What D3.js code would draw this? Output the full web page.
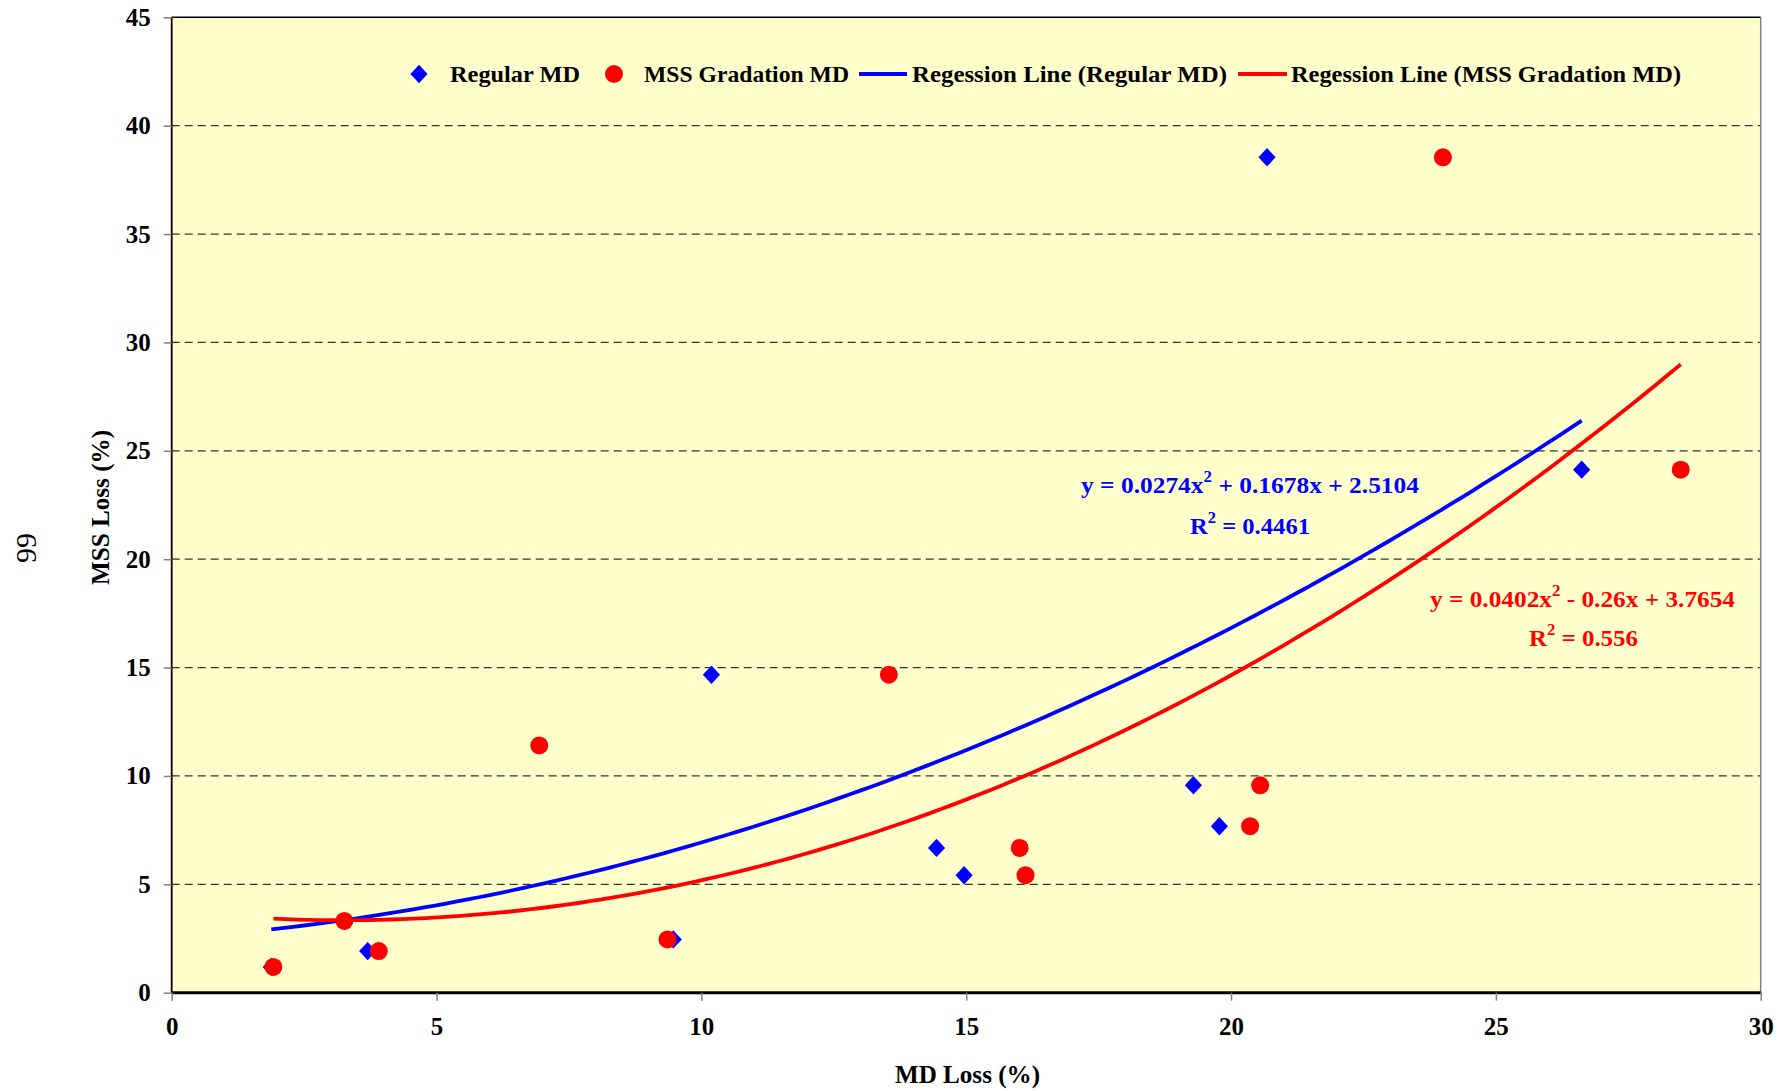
<!DOCTYPE html>
<html>
<head>
<meta charset="utf-8">
<script src="https://cdn.jsdelivr.net/npm/d3@7"></script>
<style>
  html, body { margin: 0; padding: 0; background: #ffffff; }
  svg { display: block; }
  text { font-family: "Liberation Serif", "Times New Roman", serif; }
</style>
</head>
<body>
<svg id="chart" width="1787" height="1091"></svg>
<script>
// MD loss (x) vs MSS loss (y), both in percent
const regularX = [1.88, 3.70, 9.47, 10.19, 14.44, 14.96, 19.29, 19.78, 20.68, 26.62];
const regularY = [1.19, 1.92, 2.46, 14.67, 6.68, 5.42, 9.57, 7.68, 38.54, 24.13];

const gradationX = [1.92, 3.26, 3.91, 6.94, 9.36, 13.54, 16.01, 16.12, 20.36, 20.55, 24.0, 28.49];
const gradationY = [1.19, 3.31, 1.92, 11.41, 2.46, 14.67, 6.68, 5.42, 7.68, 9.57, 38.54, 24.13];

// quadratic trendline coefficients [a, b, c] for y = a x^2 + b x + c
const regularFit = [0.0274, 0.1678, 2.5104];
const gradationFit = [0.0402, -0.26, 3.7654];
const regularR2 = "0.4461";
const gradationR2 = "0.556";

const xTicks = [0, 5, 10, 15, 20, 25, 30];
const yTicks = [0, 5, 10, 15, 20, 25, 30, 35, 40, 45];
const gridValues = [5, 10, 15, 20, 25, 30, 35, 40];

const legendLabels = ["Regular MD", "MSS Gradation MD", "Regession Line (Regular MD)", "Regession Line (MSS Gradation MD)"];

const BLUE = "#0000ff", RED = "#ff0000", PLOT_BG = "#ffffcc";

const svg = d3.select("#chart");
const plot = { left: 171.7, right: 1760.7, top: 17.3, bottom: 992.7 };

const x = d3.scaleLinear().domain([0, 30]).range([plot.left, plot.right]);
const y = d3.scaleLinear().domain([0, 45]).range([plot.bottom, plot.top]);

// plot area background
svg.append("rect")
  .attr("x", plot.left).attr("y", plot.top)
  .attr("width", plot.right - plot.left).attr("height", plot.bottom - plot.top)
  .attr("fill", PLOT_BG);

// dashed horizontal gridlines
svg.append("g").selectAll("line").data(gridValues).join("line")
  .attr("x1", plot.left).attr("x2", plot.right)
  .attr("y1", d => y(d)).attr("y2", d => y(d))
  .attr("stroke", "#333").attr("stroke-width", 1.3)
  .attr("stroke-dasharray", "8,5");

// plot frame: top black, right grey
svg.append("line").attr("x1", plot.left).attr("x2", plot.right)
  .attr("y1", plot.top).attr("y2", plot.top).attr("stroke", "#000").attr("stroke-width", 1.5);
svg.append("line").attr("x1", plot.right).attr("x2", plot.right)
  .attr("y1", plot.top).attr("y2", plot.bottom).attr("stroke", "#808080").attr("stroke-width", 1.5);

// axes
const yAxis = d3.axisLeft(y).tickValues(yTicks).tickSize(8).tickPadding(13).tickFormat(d3.format("d"));
const xAxis = d3.axisBottom(x).tickValues(xTicks).tickSize(8).tickPadding(12).tickFormat(d3.format("d"));

const gy = svg.append("g").attr("transform", `translate(${plot.left},0)`).call(yAxis);
const gx = svg.append("g").attr("transform", `translate(0,${plot.bottom})`).call(xAxis);

[gx, gy].forEach(g => {
  g.selectAll(".tick line").attr("stroke", "#808080").attr("stroke-width", 1.5);
  g.selectAll(".tick text")
    .attr("fill", "#000")
    .style("font-family", "'Liberation Serif', 'Times New Roman', serif")
    .style("font-weight", "bold")
    .style("font-size", "25px");
});
gy.select(".domain").attr("stroke", "#000").attr("stroke-width", 1.8).attr("d", `M0,${plot.top}V${plot.bottom}`);
gx.select(".domain").attr("stroke", "#000").attr("stroke-width", 3).attr("d", `M${plot.left},0H${plot.right}`);
gx.selectAll(".tick text").attr("dy", "0.9em");

// trendline paths over each series' x range
function fitCurve(coef, xs) {
  const lo = d3.min(xs), hi = d3.max(xs);
  const n = 120;
  return d3.range(n + 1).map(i => {
    const xv = lo + (hi - lo) * i / n;
    return [xv, coef[0] * xv * xv + coef[1] * xv + coef[2]];
  });
}
const line = d3.line().x(d => x(d[0])).y(d => y(d[1]));

svg.append("path").datum(fitCurve(regularFit, regularX))
  .attr("d", line).attr("fill", "none").attr("stroke", BLUE).attr("stroke-width", 3.8);
svg.append("path").datum(fitCurve(gradationFit, gradationX))
  .attr("d", line).attr("fill", "none").attr("stroke", RED).attr("stroke-width", 3.8);

// markers: a slightly tall diamond, and filled circles
const diamondType = {
  draw(ctx) {
    const w = 8.6, h = 9.2;
    ctx.moveTo(0, -h); ctx.lineTo(w, 0); ctx.lineTo(0, h); ctx.lineTo(-w, 0); ctx.closePath();
  }
};
const diamond = d3.symbol().type(diamondType);
const regular = regularX.map((v, i) => [v, regularY[i]]);
const gradation = gradationX.map((v, i) => [v, gradationY[i]]);

svg.append("g").selectAll("path").data(regular).join("path")
  .attr("d", diamond)
  .attr("transform", d => `translate(${x(d[0])},${y(d[1])})`)
  .attr("fill", BLUE);

svg.append("g").selectAll("circle").data(gradation).join("circle")
  .attr("cx", d => x(d[0])).attr("cy", d => y(d[1])).attr("r", 9)
  .attr("fill", RED);

// legend
const legend = svg.append("g").style("font-weight", "bold").style("font-size", "24px");
const legendY = 74;
legend.append("path").attr("d", diamond).attr("transform", `translate(419,${legendY})`).attr("fill", BLUE);
legend.append("circle").attr("cx", 614).attr("cy", legendY).attr("r", 9).attr("fill", RED);
legend.append("line").attr("x1", 859).attr("x2", 907).attr("y1", legendY).attr("y2", legendY)
  .attr("stroke", BLUE).attr("stroke-width", 3.8);
legend.append("line").attr("x1", 1238).attr("x2", 1287).attr("y1", legendY).attr("y2", legendY)
  .attr("stroke", RED).attr("stroke-width", 3.8);
const legendPos = [[450, 130], [644, 205], [912, 315], [1291, 390]];
legendLabels.forEach((t, i) => {
  legend.append("text").attr("x", legendPos[i][0]).attr("y", legendY + 8)
    .attr("textLength", legendPos[i][1]).attr("lengthAdjust", "spacingAndGlyphs")
    .attr("fill", "#000").text(t);
});

// trendline equations with superscript exponents
function equation(g, xPos, yPos, color, parts, width) {
  const t = g.append("text").attr("x", xPos).attr("y", yPos).attr("fill", color)
    .style("font-weight", "bold").style("font-size", "24px")
    .attr("textLength", width).attr("lengthAdjust", "spacingAndGlyphs");
  let raised = false;
  parts.forEach(p => {
    if (p.sup) {
      t.append("tspan").attr("dy", -11).style("font-size", "16px").text(p.sup);
      raised = true;
    } else {
      const s = t.append("tspan").text(p.text);
      if (raised) { s.attr("dy", 11); raised = false; }
    }
  });
  return t;
}
const eq = svg.append("g");
const fmt = v => String(Math.abs(v));
equation(eq, 1081, 493, BLUE,
  [{ text: `y = ${fmt(regularFit[0])}x` }, { sup: "2" },
   { text: ` + ${fmt(regularFit[1])}x + ${fmt(regularFit[2])}` }], 338);
equation(eq, 1190, 534, BLUE,
  [{ text: "R" }, { sup: "2" }, { text: ` = ${regularR2}` }], 120);
equation(eq, 1430, 607, RED,
  [{ text: `y = ${fmt(gradationFit[0])}x` }, { sup: "2" },
   { text: ` - ${fmt(gradationFit[1])}x + ${fmt(gradationFit[2])}` }], 305);
equation(eq, 1529, 646, RED,
  [{ text: "R" }, { sup: "2" }, { text: ` = ${gradationR2}` }], 109);

// axis titles
svg.append("text").attr("x", 895).attr("y", 1083)
  .attr("textLength", 145).attr("lengthAdjust", "spacingAndGlyphs")
  .style("font-weight", "bold").style("font-size", "26px").text("MD Loss (%)");

svg.append("text").attr("transform", "translate(109,585) rotate(-90)")
  .attr("textLength", 155).attr("lengthAdjust", "spacingAndGlyphs")
  .style("font-weight", "bold").style("font-size", "26px").text("MSS Loss (%)");

// page number
svg.append("text").attr("transform", "translate(25,548) rotate(-90)")
  .attr("text-anchor", "middle").attr("dy", "0.35em")
  .style("font-size", "30px").text("99");
</script>
</body>
</html>
